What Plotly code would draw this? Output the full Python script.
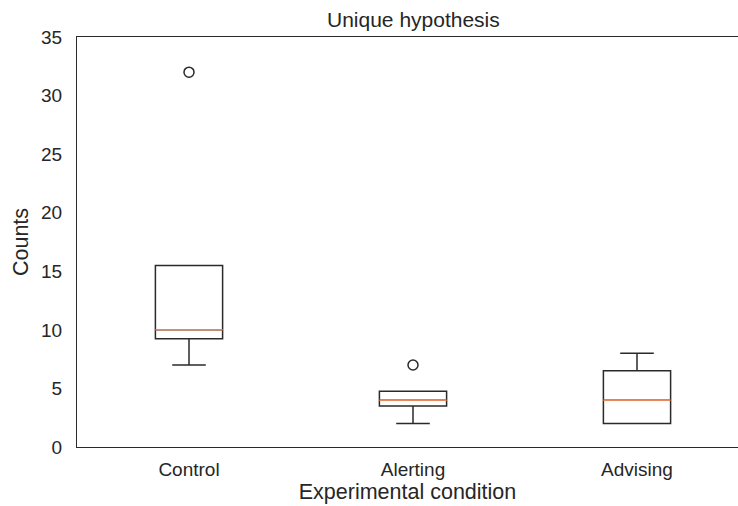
import plotly.graph_objects as go

# Box statistics per experimental condition
conditions = ["Control", "Alerting", "Advising"]
positions = [1, 2, 3]
lower_whisker = [7, 2, 2]
q1 = [9.25, 3.5, 2]
median = [10, 4, 4]
q3 = [15.5, 4.75, 6.5]
upper_whisker = [15.5, 4.75, 8]

# Outlying observations
outlier_pos = [1, 2]
outlier_val = [32, 7]

box_width = 0.3
font_family = "Liberation Sans, Arial, sans-serif"
text_color = "#262626"

fig = go.Figure()

fig.add_trace(go.Box(
    x=positions,
    q1=q1,
    median=median,
    q3=q3,
    lowerfence=lower_whisker,
    upperfence=upper_whisker,
    width=box_width,
    whiskerwidth=0.5,
    line=dict(color="#2a2a2a", width=1.5),
    fillcolor="rgba(255,255,255,0)",
    boxpoints=False,
    showlegend=False,
    hoverinfo="skip",
))

# Median lines drawn in orange over the boxes
mx, my = [], []
for p, m in zip(positions, median):
    mx += [p - box_width / 2, p + box_width / 2, None]
    my += [m, m, None]
fig.add_trace(go.Scatter(
    x=mx, y=my, mode="lines",
    line=dict(color="#e8875a", width=1.5),
    showlegend=False, hoverinfo="skip",
))

fig.add_trace(go.Scatter(
    x=outlier_pos, y=outlier_val, mode="markers",
    marker=dict(symbol="circle-open", size=10, color="#2a2a2a",
                line=dict(width=1.5, color="#2a2a2a")),
    showlegend=False, hoverinfo="skip",
))

fig.update_layout(
    width=738, height=506,
    margin=dict(l=77, r=0, t=37, b=59),
    paper_bgcolor="white",
    plot_bgcolor="white",
    font=dict(family=font_family, color=text_color, size=19),
    annotations=[dict(
        text="Unique hypothesis", xref="paper", yref="paper",
        x=(413 - 77) / 661, y=1, yanchor="bottom", yshift=4,
        showarrow=False, font=dict(size=21, color=text_color),
    )],
)

fig.update_xaxes(
    range=[0.5, 0.5 + 661 / 224],
    tickmode="array", tickvals=positions, ticktext=conditions,
    showgrid=False, zeroline=False,
    showline=True, mirror=True, linecolor="#2a2a2a", linewidth=1.25,
    ticks="", ticklabelstandoff=5,
    tickfont=dict(size=19),
    title=dict(text="Experimental condition", font=dict(size=21.5), standoff=2),
)
fig.update_yaxes(
    range=[0, 35], tickmode="array", tickvals=[0, 5, 10, 15, 20, 25, 30, 35],
    showgrid=False, zeroline=False,
    showline=True, mirror=False, linecolor="#2a2a2a", linewidth=1.25,
    ticks="", ticklabelstandoff=10,
    tickfont=dict(size=19),
    title=dict(text="Counts", font=dict(size=21.5), standoff=6),
)

fig.write_html("out.html")
